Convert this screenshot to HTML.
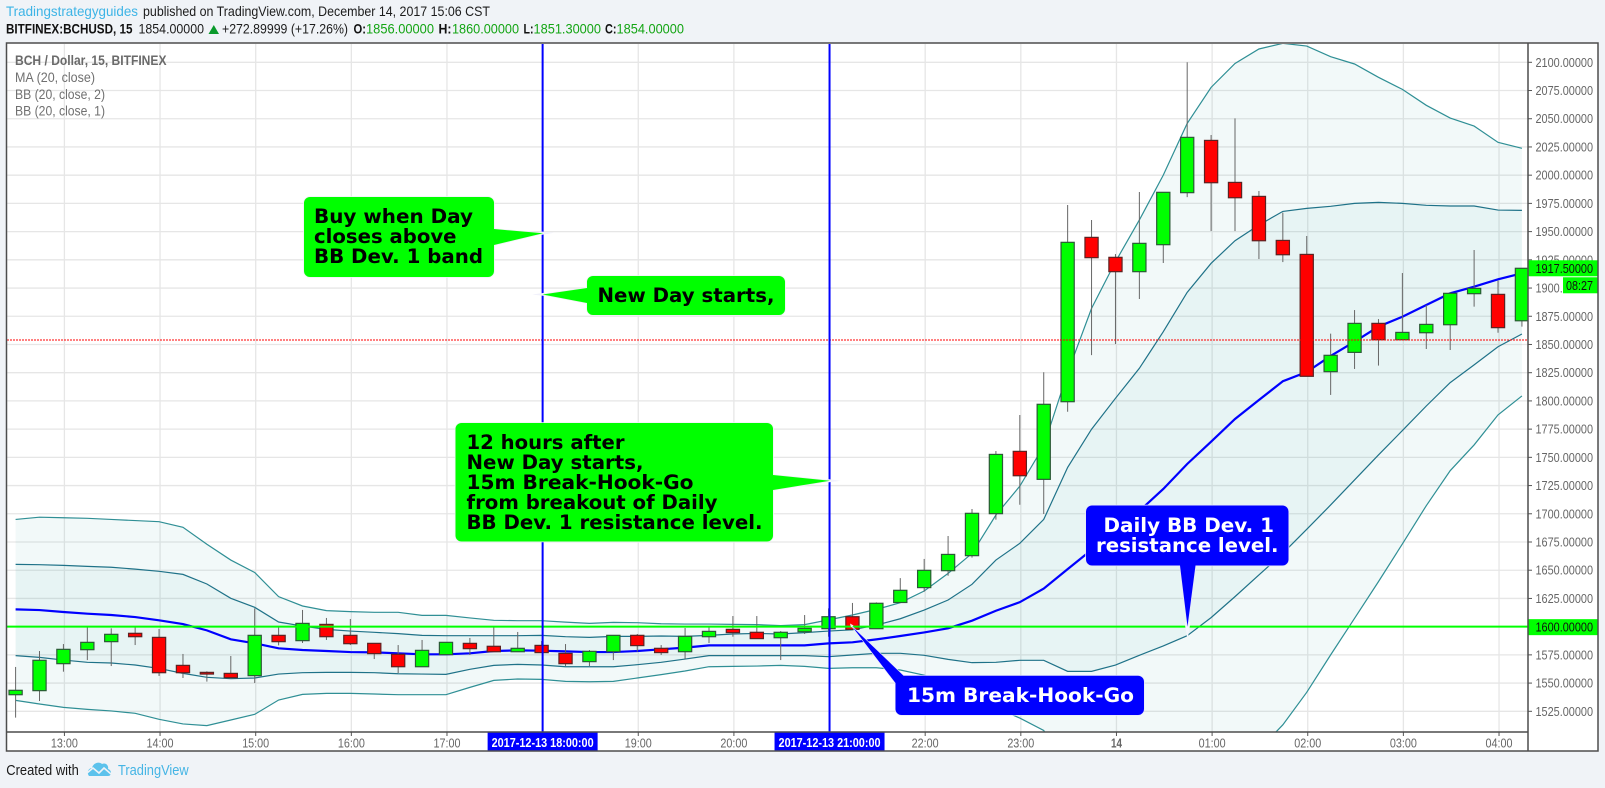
<!DOCTYPE html>
<html>
<head>
<meta charset="utf-8">
<title>BCH / Dollar chart</title>
<style>
html,body{margin:0;padding:0;background:#f0f3f7;}
svg{display:block;}
text{font-family:"Liberation Sans",sans-serif;}
.cb{font-family:"DejaVu Sans",sans-serif;font-weight:bold;font-size:19.5px;}
.tail{paint-order:stroke;stroke-linejoin:miter;stroke-miterlimit:6;}
</style>
</head>
<body>
<svg id="chart" xmlns="http://www.w3.org/2000/svg" width="1605" height="788" viewBox="0 0 1605 788">
<defs><clipPath id="plot-clip"><rect x="7" y="44" width="1521" height="688"/></clipPath></defs>
<rect x="0" y="0" width="1605" height="788" fill="#f0f3f7"/>

<g>
<text x="6" y="16" font-size="14" fill="#3db4e6" textLength="132" lengthAdjust="spacingAndGlyphs">Tradingstrategyguides</text>
<text x="143" y="16" font-size="14" fill="#1c1c1c" textLength="347" lengthAdjust="spacingAndGlyphs">published on TradingView.com, December 14, 2017 15:06 CST</text>
</g>
<g>
<text x="6" y="33.5" font-size="14" font-weight="bold" fill="#111" textLength="126.5" lengthAdjust="spacingAndGlyphs">BITFINEX:BCHUSD, 15</text>
<text x="138.5" y="33.5" font-size="14" fill="#1c1c1c" textLength="65.5" lengthAdjust="spacingAndGlyphs">1854.00000</text>
<polygon points="208.5,34 219,34 213.8,25" fill="#0a9a2c"/>
<text x="222" y="33.5" font-size="14" fill="#1c1c1c" textLength="126" lengthAdjust="spacingAndGlyphs">+272.89999 (+17.26%)</text>
<text x="353.5" y="33.5" font-size="14" font-weight="bold" fill="#111" textLength="12.5" lengthAdjust="spacingAndGlyphs">O:</text>
<text x="366" y="33.5" font-size="14" fill="#14a514" textLength="68" lengthAdjust="spacingAndGlyphs">1856.00000</text>
<text x="438.5" y="33.5" font-size="14" font-weight="bold" fill="#111" textLength="13" lengthAdjust="spacingAndGlyphs">H:</text>
<text x="452" y="33.5" font-size="14" fill="#14a514" textLength="67" lengthAdjust="spacingAndGlyphs">1860.00000</text>
<text x="523.5" y="33.5" font-size="14" font-weight="bold" fill="#111" textLength="10" lengthAdjust="spacingAndGlyphs">L:</text>
<text x="533.5" y="33.5" font-size="14" fill="#14a514" textLength="67.5" lengthAdjust="spacingAndGlyphs">1851.30000</text>
<text x="605" y="33.5" font-size="14" font-weight="bold" fill="#111" textLength="11.5" lengthAdjust="spacingAndGlyphs">C:</text>
<text x="616.5" y="33.5" font-size="14" fill="#14a514" textLength="67.5" lengthAdjust="spacingAndGlyphs">1854.00000</text>
</g>

<rect x="6" y="43" width="1592" height="708" fill="#ffffff"/>
<g id="grid"></g>
<g id="series" clip-path="url(#plot-clip)"></g>

<g>
<text x="15" y="65" font-size="13.5" font-weight="bold" fill="#6a6a6a" textLength="151.5" lengthAdjust="spacingAndGlyphs">BCH / Dollar, 15, BITFINEX</text>
<text x="15" y="82" font-size="13.5" fill="#707070" textLength="80" lengthAdjust="spacingAndGlyphs">MA (20, close)</text>
<text x="15" y="99" font-size="13.5" fill="#707070" textLength="90" lengthAdjust="spacingAndGlyphs">BB (20, close, 2)</text>
<text x="15" y="115.5" font-size="13.5" fill="#707070" textLength="90" lengthAdjust="spacingAndGlyphs">BB (20, close, 1)</text>
</g>

<g>
<polygon points="541,231.500 554,232.800 541,235" fill="#f1f1fb"/>
<path class="tail" d="M310 197H488a6 6 0 0 1 6 6V229L543 233.300L494 245V271a6 6 0 0 1 -6 6H310a6 6 0 0 1 -6 -6V203a6 6 0 0 1 6 -6Z" fill="#00ff00" stroke="#f1f1f6" stroke-width="1.5"/>
<text class="cb" x="314" y="223" textLength="159" lengthAdjust="spacingAndGlyphs" fill="#000">Buy when Day</text>
<text class="cb" x="314" y="243" textLength="142.5" lengthAdjust="spacingAndGlyphs" fill="#000">closes above</text>
<text class="cb" x="314" y="263" textLength="169" lengthAdjust="spacingAndGlyphs" fill="#000">BB Dev. 1 band</text>
</g>
<g>
<polygon points="545,292.800 532,294.500 545,296" fill="#f1f1fb"/>
<path class="tail" d="M593 276H779a6 6 0 0 1 6 6V309a6 6 0 0 1 -6 6H593a6 6 0 0 1 -6 -6V303L542.500 294.500L587 288V282a6 6 0 0 1 6 -6Z" fill="#00ff00" stroke="#f1f1f6" stroke-width="1.5"/>
<text class="cb" x="597.5" y="302" textLength="177" lengthAdjust="spacingAndGlyphs" fill="#000">New Day starts,</text>
</g>
<g>
<polygon points="827,479 841,480.800 827,482.500" fill="#f1f1fb"/>
<path class="tail" d="M461.5 423H767a6 6 0 0 1 6 6V475L830 480.800L773 490V535.500a6 6 0 0 1 -6 6H461.500a6 6 0 0 1 -6 -6V429a6 6 0 0 1 6 -6Z" fill="#00ff00" stroke="#f1f1f6" stroke-width="1.5"/>
<text class="cb" x="466.500" y="449" textLength="158" lengthAdjust="spacingAndGlyphs" fill="#000">12 hours after</text>
<text class="cb" x="466.500" y="469" textLength="177" lengthAdjust="spacingAndGlyphs" fill="#000">New Day starts,</text>
<text class="cb" x="466.500" y="489" textLength="227" lengthAdjust="spacingAndGlyphs" fill="#000">15m Break-Hook-Go</text>
<text class="cb" x="466.500" y="509" textLength="251" lengthAdjust="spacingAndGlyphs" fill="#000">from breakout of Daily</text>
<text class="cb" x="466.500" y="529" textLength="296" lengthAdjust="spacingAndGlyphs" fill="#000">BB Dev. 1 resistance level.</text>
</g>
<g>
<polygon points="1184.500,622 1190.500,622 1188,637 1187,637" fill="#f4f6fb"/>
<path class="tail" d="M1092 505.500H1282.500a6 6 0 0 1 6 6V559.500a6 6 0 0 1 -6 6H1195.500L1187.500 626.500L1180 565.500H1092a6 6 0 0 1 -6 -6V511.500a6 6 0 0 1 6 -6Z" fill="#0000ff" stroke="#e8e8fa" stroke-width="1.5"/>
<text class="cb" x="1103.500" y="532" textLength="170.500" lengthAdjust="spacingAndGlyphs" fill="#fff">Daily BB Dev. 1</text>
<text class="cb" x="1096" y="552" textLength="182.500" lengthAdjust="spacingAndGlyphs" fill="#fff">resistance level.</text>
</g>
<g>
<polygon points="853.500,625.500 850,623.500 851,627.500" fill="#f4f6fb"/>
<path class="tail" d="M901.500 675.700H1138a6 6 0 0 1 6 6V709a6 6 0 0 1 -6 6H901.500a6 6 0 0 1 -6 -6V683L852.300 626.700L903.500 675.700Z" fill="#0000ff" stroke="#e8e8fa" stroke-width="1.2"/>
<text class="cb" x="907" y="702" textLength="227" lengthAdjust="spacingAndGlyphs" fill="#fff">15m Break-Hook-Go</text>
</g>

<g id="axes"></g>

<g fill="none" stroke="#4d4d4d" stroke-width="1.500">
<rect x="6.500" y="43" width="1591.500" height="708"/>
<line x1="1528" y1="43" x2="1528" y2="751"/>
<line x1="6.500" y1="732" x2="1528" y2="732"/>
</g>

<g>
<text x="6.300" y="775" font-size="15" fill="#1a1a1a" textLength="72.500" lengthAdjust="spacingAndGlyphs">Created with</text>
<g>
<path d="M89 776C86 772 89 768 92 768C93 763 99 761 102 764C106 762 109 766 108 769C112 770 112 776 108 776Z" fill="#5cc2ec"/>
<polyline points="87,773 93,768 99,773 104,768 111,774" fill="none" stroke="#f0f3f7" stroke-width="1.6"/>
</g>
<text x="118" y="775" font-size="15" fill="#45b5e5" textLength="70.700" lengthAdjust="spacingAndGlyphs">TradingView</text>
</g>

<script>
const candleTimes = ["12:30","12:45","13:00","13:15","13:30","13:45","14:00","14:15","14:30","14:45","15:00","15:15","15:30","15:45","16:00","16:15","16:30","16:45","17:00","17:15","17:30","17:45","18:00","18:15","18:30","18:45","19:00","19:15","19:30","19:45","20:00","20:15","20:30","20:45","21:00","21:15","21:30","21:45","22:00","22:15","22:30","22:45","23:00","23:15","23:30","23:45","00:00","00:15","00:30","00:45","01:00","01:15","01:30","01:45","02:00","02:15","02:30","02:45","03:00","03:15","03:30","03:45","04:00","04:15"];
const candleOpen = [1539.7,1543.3,1567.2,1579.6,1586.7,1594.1,1590.5,1565.7,1559.5,1558.6,1556.6,1592.3,1587.6,1602,1592.3,1585.2,1575.5,1564.5,1575.2,1585.2,1582.6,1577.8,1583.4,1576.3,1569,1577.8,1592.3,1580.8,1577.8,1591.1,1597.6,1595,1590.2,1595.5,1598.2,1608.8,1598.2,1621.4,1634.6,1649.6,1662.9,1700.1,1755.3,1730.5,1799.3,1944.9,1927.2,1914.5,1938.4,1984.5,2030.8,1993.6,1981.2,1942.2,1929.8,1825.9,1843,1868.7,1854.2,1860.4,1867.5,1895,1894.4,1871];
const candleHigh = [1564.3,1578.4,1584.6,1599.4,1598.5,1599.4,1597.9,1575.8,1560.4,1574,1616.2,1600,1614.8,1607.7,1606.8,1585.2,1583.7,1588.2,1586.1,1590,1600,1595.3,1587.3,1584.6,1579.3,1592.3,1593.5,1583.7,1598.8,1600,1609.4,1609.4,1596.1,1610.3,1616.2,1621,1621.5,1643,1660,1680.3,1704.2,1755.6,1787.5,1825.4,1973.6,1960.3,1930.1,1985.1,1984.8,2100,2035.6,2050.3,1986,1966.8,1946.1,1859.6,1880.5,1872.5,1913.3,1885,1896.2,1933.7,1906.5,1917.5];
const candleLow = [1519.4,1534.1,1560.1,1570.4,1565.1,1583.7,1556.3,1554.5,1551.3,1554.5,1550.1,1583.4,1585.5,1588.2,1583.7,1571.3,1558.9,1564.5,1575.2,1574.9,1577.8,1577.8,1577,1565.1,1565.1,1570.4,1577.8,1574.9,1571.3,1585.5,1591.1,1589.4,1570.4,1593.5,1591.1,1597.6,1598.2,1621.4,1631,1645.1,1661.1,1694.8,1708,1699.8,1790.4,1840.6,1850.4,1890.3,1922.2,1980.6,1950.5,1950.5,1925.7,1923,1821.8,1805.3,1828.3,1831.3,1854.2,1846,1845.1,1883.5,1860.4,1865.8];
const candleClose = [1543.6,1570.2,1579.9,1586.1,1593.2,1591.1,1559.2,1559.2,1558,1554.8,1592.3,1586.7,1602.9,1591.1,1584.9,1576.1,1564.5,1579,1586.1,1580.5,1577.8,1580.8,1577,1567.2,1578.1,1592.3,1583.2,1577,1591.4,1595.8,1594.7,1589.4,1595,1598.5,1608.8,1597.6,1620.7,1632.2,1649.9,1664,1700.4,1752.6,1733.7,1797,1940.5,1926.9,1914.5,1939.6,1984.8,2033.5,1993.3,1980,1941.9,1929.5,1821.8,1840.4,1868.7,1854.2,1860.7,1867.8,1895.3,1899.7,1864.9,1917.5];
const bbUpper2 = [1695,1697,1696.5,1696,1695,1694,1693,1688,1673,1659,1648,1626.6,1618.3,1614.2,1613.3,1612.7,1612.7,1610,1610,1607.7,1605.6,1605.3,1605.3,1604,1602.9,1603.8,1603.5,1602.6,1602.3,1602.3,1602,1601.8,1600.9,1601.8,1606,1610.3,1615.3,1621.2,1631.6,1647.2,1664.9,1698.9,1724.5,1760,1825,1882,1923.3,1960.3,2000,2045.9,2077.8,2099,2111.8,2116.8,2114.4,2105,2098.5,2086.7,2076,2061.9,2050.6,2043.5,2029.1,2023.8];
const bbUpper1 = [1655.2,1654.9,1654.3,1653.4,1652.6,1651,1649,1646.3,1637.8,1625.1,1617.1,1604.1,1600.5,1597.6,1596.1,1595,1593.8,1592.3,1592,1592,1592,1592,1592.3,1591.1,1590.5,1591.4,1591.4,1591.7,1591.4,1592.3,1593.5,1594,1593.5,1594.7,1596.1,1597.2,1601.4,1607,1614.7,1623.6,1637.5,1659,1673.8,1695,1741.1,1774.9,1802.3,1828.9,1861.3,1896.2,1921.9,1941.9,1955.8,1967.9,1970.6,1972.4,1975,1975.9,1975,1973.3,1972.7,1972.7,1969.1,1968.8];
const maLine = [1615.3,1614.7,1613,1611.5,1610.3,1608.5,1605.6,1602.3,1596.7,1588.8,1585.2,1580.8,1579.3,1578.4,1577.5,1577.2,1576.4,1575.5,1575.5,1576.4,1578.4,1579,1578.7,1578.1,1577.5,1577.5,1578.4,1579.9,1581.4,1583.4,1583.4,1583.4,1583.4,1583.4,1585.2,1586.1,1588.7,1591.7,1594.9,1598.5,1605.3,1614.1,1621.7,1633.7,1651,1668,1685.7,1702.5,1722,1744.1,1763.9,1784,1800.8,1817.4,1825.6,1839.8,1852.5,1865.8,1874.6,1885,1895.3,1901.2,1907.7,1913];
const bbLower1 = [1574.3,1572.8,1570.4,1568.4,1567.8,1566,1563,1558.6,1555.1,1553.9,1554.5,1558,1559.2,1559.5,1559.5,1559.2,1558.3,1558,1557.7,1562.2,1565.7,1566.6,1566,1564.5,1564.5,1564.5,1566.3,1568.4,1571.3,1574.3,1574.3,1574.3,1574.3,1574.3,1573.4,1574.9,1576.4,1576.4,1574.6,1571,1568.1,1568.4,1570.2,1570.2,1560.4,1560.4,1566,1574.6,1582.9,1592,1608,1626.6,1645.8,1665,1686.2,1707.8,1730,1752.1,1773.7,1795.5,1816.2,1831.9,1848,1859.3];
const bbLower2 = [1534.7,1531.5,1528.5,1526.7,1525.3,1523.2,1517.9,1513.8,1512.3,1517.3,1522.3,1535,1540,1540.9,1540.9,1540.3,1539.7,1539.7,1539.7,1546.2,1552.4,1553.6,1553.3,1551.5,1551.2,1551.5,1554.5,1557.5,1560.7,1564.5,1564.8,1565.1,1565.7,1564.8,1563,1563.6,1563.6,1561.6,1557,1549,1540,1528,1519,1508,1469,1453,1446,1447,1444,1440,1452,1469,1491,1513,1541.8,1575,1607.4,1639.9,1673.3,1707.2,1738.2,1761,1787.6,1804.4];
const priceTicks = [2100,2075,2050,2025,2000,1975,1950,1925,1900,1875,1850,1825,1800,1775,1750,1725,1700,1675,1650,1625,1600,1575,1550,1525];
const levelPrices = [1600];
const lastClosePrice = [1854];
const markedTimes = ["18:00","21:00"];
const markedTimeLabels = ["2017-12-13 18:00:00","2017-12-13 21:00:00"];

const SVGNS = 'http://www.w3.org/2000/svg';
function xOf(i){ return 15.6 + 23.91 * i; }
function gridX(i){ return xOf(i) + 1; }
function yOf(p){ return 62.3 + (2100 - p) * 1.1287; }
function mk(tag, parent, attrs){
  const el = document.createElementNS(SVGNS, tag);
  for (const k in attrs) el.setAttribute(k, attrs[k]);
  parent.appendChild(el);
  return el;
}
function linePath(vals){
  return vals.map((v,i)=>(i?'L':'M')+xOf(i).toFixed(2)+' '+yOf(v).toFixed(2)).join('');
}
function bandPath(top,bot){
  let d = linePath(top);
  for (let i=bot.length-1;i>=0;i--) d += 'L'+xOf(i).toFixed(2)+' '+yOf(bot[i]).toFixed(2);
  return d+'Z';
}
const grid = document.getElementById('grid');
const series = document.getElementById('series');
const axes = document.getElementById('axes');

priceTicks.forEach(function(p){
  const g = mk('line', grid, {x1:7,x2:1528,y1:yOf(p),y2:yOf(p),stroke:'#e6e6e6','stroke-width':1.3});
  
  
});
candleTimes.forEach(function(t,i){
  if (!t.endsWith(':00')) return;
  const g = mk('line', grid, {x1:gridX(i),x2:gridX(i),y1:44,y2:732,stroke:'#e6e6e6','stroke-width':1.3});
  
  
});

const outerFill = mk('path', series, {d:bandPath(bbUpper2,bbLower2),fill:'rgba(0,128,128,0.05)'});


const innerFill = mk('path', series, {d:bandPath(bbUpper1,bbLower1),fill:'rgba(0,128,128,0.045)'});



const upper2Line = mk('path', series, {d:linePath(bbUpper2),fill:'none',stroke:'#2f8f95','stroke-width':1.2});


const lower2Line = mk('path', series, {d:linePath(bbLower2),fill:'none',stroke:'#2f8f95','stroke-width':1.2});


const upper1Line = mk('path', series, {d:linePath(bbUpper1),fill:'none',stroke:'#1f7288','stroke-width':1.2});


const lower1Line = mk('path', series, {d:linePath(bbLower1),fill:'none',stroke:'#1f7288','stroke-width':1.2});


const ma = mk('path', series, {d:linePath(maLine),fill:'none',stroke:'#0000ff','stroke-width':2.2});



candleOpen.forEach(function(o,i){
  const c = candleClose[i];
  const up = c >= o;
  const wick = mk('line', series, {x1:xOf(i),x2:xOf(i),y1:yOf(candleHigh[i]),y2:yOf(candleLow[i]),stroke:'#666666','stroke-width':1});
  
  
  const top = yOf(Math.max(o,c));
  const h = Math.max(Math.abs(yOf(o)-yOf(c)),1);
  const body = mk('rect', series, {x:xOf(i)-6.6,y:top,width:13.2,height:h,fill:up?'#00ff00':'#ff0000',stroke:up?'#2b5a36':'#5c2222','stroke-width':1.2});
  
  
});

levelPrices.forEach(function(p){
  const l = mk('line', series, {x1:7,x2:1528,y1:yOf(p),y2:yOf(p),stroke:'#00ff00','stroke-width':2});
  
  
});
lastClosePrice.forEach(function(p){
  const l = mk('line', series, {x1:7,x2:1528,y1:yOf(p),y2:yOf(p),stroke:'#ff0000','stroke-width':1,'stroke-dasharray':'2 1'});
  
  
});
markedTimes.forEach(function(t){
  const i = candleTimes.indexOf(t);
  const l = mk('line', series, {x1:gridX(i),x2:gridX(i),y1:44,y2:732,stroke:'#0000ff','stroke-width':2});
  
  
});

priceTicks.forEach(function(p){
  const y = yOf(p);
  const tick = mk('line', axes, {x1:1528,x2:1532,y1:y,y2:y,stroke:'#555','stroke-width':1});
  
  
  const t = mk('text', axes, {x:1535.5,y:y+4.5,'font-size':13,fill:'#666',textLength:57.5,lengthAdjust:'spacingAndGlyphs'});
  t.textContent = p.toFixed(5);
  
  
});
candleTimes.forEach(function(t,i){
  if (!t.endsWith(':00')) return;
  const tick = mk('line', axes, {x1:gridX(i),x2:gridX(i),y1:732,y2:736,stroke:'#555','stroke-width':1});
  
  
  const isDay = t === '00:00';
  const lab = mk('text', axes, {x:gridX(i),y:747.5,'font-size':13,'text-anchor':'middle',fill:'#666','font-weight':isDay?'bold':'normal',textLength:isDay?11:27,lengthAdjust:'spacingAndGlyphs'});
  lab.textContent = isDay ? '14' : t;
  
  
});
markedTimes.forEach(function(t,k){
  const i = candleTimes.indexOf(t);
  const cx = gridX(i);
  const box = mk('rect', axes, {x:cx-55,y:732,width:110,height:19,fill:'#0000ff'});
  
  
  const lab = mk('text', axes, {x:cx,y:747,'font-size':12.5,'font-weight':'bold','text-anchor':'middle',fill:'#ffffff',textLength:102,lengthAdjust:'spacingAndGlyphs'});
  lab.textContent = markedTimeLabels[k];
  
  
});

levelPrices.forEach(function(p){
  const y = yOf(p);
  const box = mk('rect', axes, {x:1528,y:y-7.500,width:70,height:16,fill:'#00ff00'});
  
  
  const t = mk('text', axes, {x:1535.5,y:y+5,'font-size':13,fill:'#111',textLength:57.5,lengthAdjust:'spacingAndGlyphs'});
  t.textContent = p.toFixed(5);
  
  
});
const lastValue = candleClose[candleClose.length-1];
const lastY = yOf(lastValue);
const lastBox = mk('rect', axes, {x:1528,y:lastY-8,width:70,height:16,fill:'#00ff00'});


const lastText = mk('text', axes, {x:1535.5,y:lastY+4.5,'font-size':13,fill:'#111',textLength:57.5,lengthAdjust:'spacingAndGlyphs'});
lastText.textContent = lastValue.toFixed(5);


const timerBox = mk('rect', axes, {x:1563,y:lastY+9,width:35,height:16,fill:'#00ff00'});


const timerText = mk('text', axes, {x:1566,y:lastY+21.5,'font-size':13,fill:'#111',textLength:27,lengthAdjust:'spacingAndGlyphs'});
timerText.textContent = '08:27';


</script>
</svg>
</body>
</html>
